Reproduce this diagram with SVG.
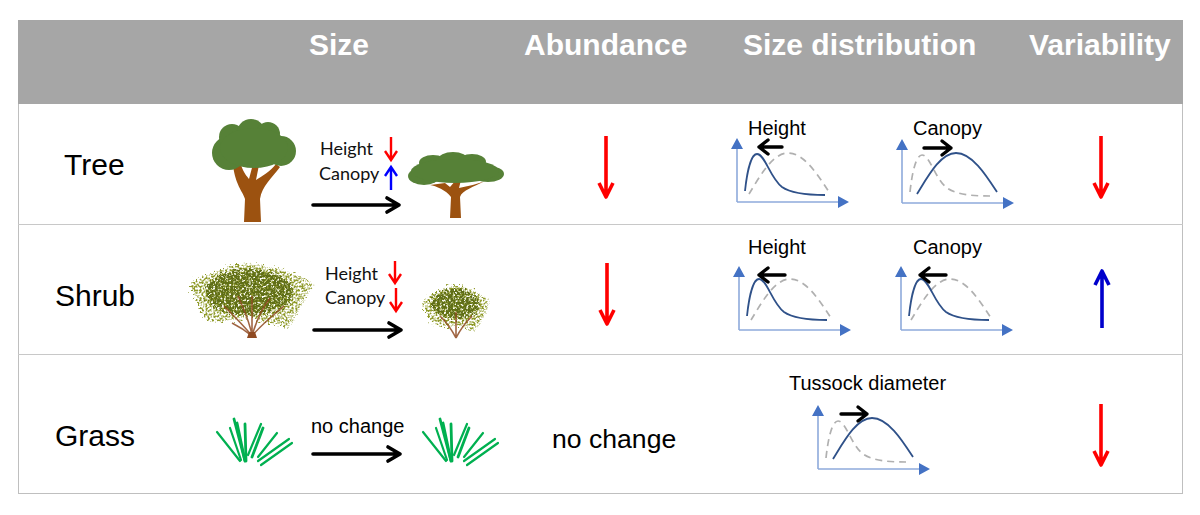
<svg xmlns="http://www.w3.org/2000/svg" width="1200" height="515" viewBox="0 0 1200 515">
<style>
text{font-family:"Liberation Sans",Arial,sans-serif;fill:#000}
.hd{font-size:30px;font-weight:700;fill:#fff}
.row{font-size:30px}
.lb{font-size:20px}
.cal{font-family:Lato,"Liberation Sans",sans-serif;font-size:18px;fill:#111}
.axis{fill:none;stroke:#8eaadb;stroke-width:1.6}
.blue{fill:none;stroke:#2f5189;stroke-width:1.8}
.gray{fill:none;stroke:#b0b0b0;stroke-width:1.7;stroke-dasharray:7 5}
.blk{fill:none;stroke:#000;stroke-width:3.4;stroke-linecap:round;stroke-linejoin:round}
.blk2{fill:none;stroke:#000;stroke-width:3.6;stroke-linecap:round;stroke-linejoin:round}
.red{fill:none;stroke:#f00;stroke-width:3.6;stroke-linejoin:round}
.bl{fill:none;stroke:#00c;stroke-width:3.6;stroke-linejoin:round}
.reds{fill:none;stroke:#f00;stroke-width:2.4}
.bls{fill:none;stroke:#00f;stroke-width:2.4}
.gr{stroke:#00b050;stroke-width:2.2;stroke-linecap:round}
.grt{stroke:#00b050;stroke-width:2.8;stroke-linecap:round}
.crown{fill:#568137}
.trunk{fill:#9c5210}
.stem{fill:none;stroke:#8f4a22;stroke-width:1.6;opacity:.85}
</style>
<defs>
<filter id="inner" x="-20%" y="-20%" width="140%" height="140%">
<feTurbulence type="fractalNoise" baseFrequency="0.45" numOctaves="2" seed="4" result="n"/>
<feDisplacementMap in="SourceGraphic" in2="n" scale="14" xChannelSelector="R" yChannelSelector="G" result="d"/>
<feColorMatrix in="n" type="matrix" values="0 0 0 0 0 0 0 0 0 0 0 0 0 0 0 6 0 0 0 -2.1" result="m"/>
<feComposite in="d" in2="m" operator="in"/>
<feGaussianBlur stdDeviation="0.5"/>
</filter>
<filter id="outer" x="-20%" y="-20%" width="140%" height="140%">
<feTurbulence type="fractalNoise" baseFrequency="0.5" numOctaves="2" seed="9" result="n"/>
<feDisplacementMap in="SourceGraphic" in2="n" scale="14" xChannelSelector="R" yChannelSelector="G" result="d"/>
<feColorMatrix in="n" type="matrix" values="0 0 0 0 0 0 0 0 0 0 0 0 0 0 0 6 0 0 0 -2.6" result="m"/>
<feComposite in="d" in2="m" operator="in"/>
<feGaussianBlur stdDeviation="0.45"/>
</filter>
<filter id="spk" x="-20%" y="-20%" width="140%" height="140%">
<feTurbulence type="fractalNoise" baseFrequency="0.55" numOctaves="1" seed="11" result="n"/>
<feDisplacementMap in="SourceGraphic" in2="n" scale="8" xChannelSelector="R" yChannelSelector="G" result="d"/>
<feColorMatrix in="n" type="matrix" values="0 0 0 0 0 0 0 0 0 0 0 0 0 0 0 0 5 0 0 -3.1" result="m"/>
<feComposite in="d" in2="m" operator="in"/>
<feGaussianBlur stdDeviation="0.45"/>
</filter>
<g id="axes">
<path class="axis" d="M0,0V-56M0,0H104"/>
<path d="M0,-64L-6,-53H6Z M112,0L101,-6V6Z" fill="#4472c4"/>
</g>
<path id="skew" d="M8,-11C10,-30 14,-48 20,-48C28,-48 33,-24 45,-15C55,-8 72,-7 88,-7"/>
<path id="wide" d="M15,-9C25,-25 38,-50 54,-50C70,-50 84,-28 95,-11"/>
<path id="sh-out" d="M190,284C202,277 215,272 225,269C235,263 255,262 268,267C285,269 303,277 314,285C306,296 298,314 288,328C280,325 272,322 262,323L252,316L240,320C228,319 215,324 207,320C201,310 195,295 190,284Z"/>
<path id="shs-out" d="M422,302C431,295 442,288 455,286C470,287 483,294 490,302C486,314 480,326 474,331C468,329 462,327 456,325C448,327 440,327 433,323C429,318 425,310 422,302Z"/>
<g id="grass">
<line class="gr" x1="217" y1="432" x2="240" y2="461"/>
<line class="gr" x1="230" y1="428" x2="241" y2="460"/>
<line class="grt" x1="234" y1="419" x2="245" y2="461"/>
<line class="grt" x1="237" y1="423" x2="245" y2="461"/>
<line class="grt" x1="245" y1="424" x2="246" y2="461"/>
<line class="gr" x1="261" y1="424" x2="248" y2="455"/>
<line class="grt" x1="263" y1="428" x2="252" y2="457"/>
<line class="gr" x1="277" y1="433" x2="258" y2="457"/>
<line class="gr" x1="289" y1="439" x2="258" y2="461"/>
<line class="gr" x1="292" y1="443" x2="261" y2="465"/>
</g>
</defs>

<rect x="18.500" y="20.500" width="1164" height="473" fill="#fff" stroke="#bfbfbf"/>
<rect x="18" y="20" width="1165" height="84" fill="#a6a6a6"/>
<path d="M18,224.500H1183M18,354.500H1183" stroke="#c8c8c8" stroke-width="1.200" fill="none"/>

<g id="header">
<text class="hd" x="309" y="55">Size</text>
<text class="hd" x="524" y="55">Abundance</text>
<text class="hd" x="743" y="55">Size distribution</text>
<text class="hd" x="1029" y="55">Variability</text>
</g>

<g id="node-tree">
<text class="row" x="64" y="175">Tree</text>
<g id="tree-large">
<path class="trunk" d="M244,222L245,199C242,190 236,186 233,166L241,165C244,174 247,176 249,179L253,164L259,165L256,180C262,176 270,172 276,164L280,167C272,178 262,186 260,199L261,222Z"/>
<g class="crown">
<circle cx="229" cy="153" r="17"/><circle cx="232" cy="137" r="13"/><circle cx="251" cy="133" r="14"/><circle cx="268" cy="134" r="12"/><circle cx="281" cy="151" r="15"/><ellipse cx="254" cy="148" rx="34" ry="20"/>
</g>
</g>
<g id="tree-small">
<path class="trunk" d="M450,218L451,197C446,190 436,186 430,185L445,183L450,187L456,180L461,180L459,188C468,186 478,184 485,181C474,187 462,190 460,197L461,218Z"/>
<g class="crown">
<ellipse cx="424" cy="176" rx="16" ry="9"/><ellipse cx="488" cy="174" rx="16" ry="8"/><ellipse cx="433" cy="163" rx="14" ry="8"/><ellipse cx="453" cy="160" rx="15" ry="8"/><ellipse cx="472" cy="162" rx="14" ry="8"/><ellipse cx="455" cy="171" rx="44" ry="12"/>
</g>
</g>
<text class="cal" x="320" y="155">Height</text>
<text class="cal" x="319" y="180">Canopy</text>
<path class="reds" d="M391,137V160M385,151L391,160L397,151"/>
<path class="bls" d="M391,190V167M385,176L391,167L397,176"/>
<path class="blk2" d="M313,205H399M387,198L399,205L387,212"/>
<path class="red" d="M606,136V197M599,183L606,197L613,183"/>
<g transform="translate(737,202)"><use href="#axes"/><use href="#wide" class="gray" transform="translate(-3,1)"/><use href="#skew" class="blue"/></g>
<text class="lb" x="748" y="135">Height</text>
<path class="blk" d="M782,147H759M768,140L759,147L768,154"/>
<g transform="translate(902,203)"><use href="#axes"/><use href="#skew" class="gray"/><use href="#wide" class="blue"/></g>
<text class="lb" x="913" y="135">Canopy</text>
<path class="blk" d="M924,148H951M942,141L951,148L942,155"/>
<path class="red" d="M1101,136V197M1094,183L1101,197L1108,183"/>
</g>

<g id="node-shrub">
<text class="row" x="55" y="306">Shrub</text>
<g id="shrub-large">
<use href="#sh-out" fill="#8f9a2a" filter="url(#outer)"/>
<ellipse cx="250" cy="292" rx="44" ry="23" fill="#5f6e14" filter="url(#inner)"/>
<ellipse cx="250" cy="291" rx="50" ry="24" fill="#aeb044" filter="url(#spk)"/>
<path class="stem" d="M252,336C246,328 236,318 224,306M252,336C250,322 244,310 238,296M252,336V296M252,336C256,322 262,308 270,298M252,336C260,326 272,316 284,306M252,336C246,331 240,327 232,323"/>
<path d="M247,338h10l-2,-6h-6Z" fill="#8f4a22"/>
</g>
<g id="shrub-small">
<use href="#shs-out" fill="#8f9a2a" filter="url(#outer)"/>
<ellipse cx="456" cy="304" rx="24" ry="15" fill="#5f6e14" filter="url(#inner)"/>
<ellipse cx="456" cy="304" rx="26" ry="16" fill="#aeb044" filter="url(#spk)"/>
<path class="stem" d="M456,338C452,330 446,322 440,316M456,338V312M456,338C460,330 466,322 472,316"/>
</g>
<text class="cal" x="325" y="280">Height</text>
<text class="cal" x="325" y="304">Canopy</text>
<path class="reds" d="M395,261V283M389,274L395,283L401,274"/>
<path class="reds" d="M396,288V311M390,302L396,311L402,302"/>
<path class="blk2" d="M314,330H401M389,323L401,330L389,337"/>
<path class="red" d="M607,263V324M600,310L607,324L614,310"/>
<g transform="translate(739,330)"><use href="#axes"/><use href="#wide" class="gray" transform="translate(-3,-1)"/><use href="#skew" class="blue" transform="translate(0,-3)"/></g>
<text class="lb" x="748" y="254">Height</text>
<path class="blk" d="M785,275H759M768,268L759,275L768,282"/>
<g transform="translate(901,330)"><use href="#axes"/><use href="#wide" class="gray" transform="translate(-5,-1)"/><use href="#skew" class="blue" transform="translate(0,-3)"/></g>
<text class="lb" x="913" y="254">Canopy</text>
<path class="blk" d="M946,275H920M929,268L920,275L929,282"/>
<path class="bl" d="M1102,328V271M1095,285L1102,271L1109,285"/>
</g>

<g id="node-grass">
<text class="row" x="55" y="446">Grass</text>
<use href="#grass"/>
<use href="#grass" x="206"/>
<text class="lb" x="311" y="433">no change</text>
<path class="blk2" d="M313,454H400M388,447L400,454L388,461"/>
<text x="552" y="448" font-size="26.600">no change</text>
<text class="lb" x="789" y="390">Tussock diameter</text>
<g transform="translate(818,469)"><use href="#axes"/><use href="#skew" class="gray"/><use href="#wide" class="blue" transform="translate(0,-1)"/></g>
<path class="blk" d="M841,414H867M858,407L867,414L858,421"/>
<path class="red" d="M1101,404V465M1094,451L1101,465L1108,451"/>
</g>
</svg>
